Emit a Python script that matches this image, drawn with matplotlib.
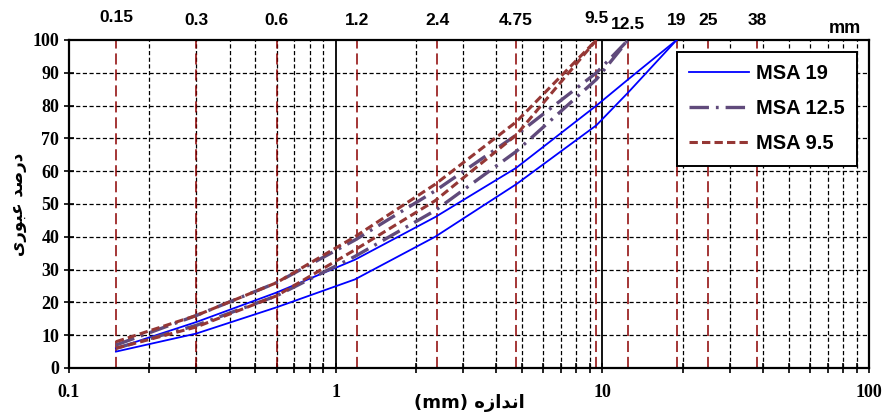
import numpy as np
import matplotlib
matplotlib.use("Agg")
import matplotlib.pyplot as plt
import matplotlib.ticker as mticker
import matplotlib.transforms as mtransforms

plt.rcParams['lines.scale_dashes'] = False

# sieve sizes (mm) and passing percentages
sieves = [0.15, 0.3, 0.6, 1.18, 2.36, 4.75, 9.5, 12.5, 19]
msa19_lo = [5, 10.5, 18.5, 27, 40, 56, 74, 84, 100]
msa19_hi = [6, 14, 23, 33, 46, 61, 80, 88, 100]
msa125_lo = [6, 13, 22, 34, 48, 66, 88, 100]
msa125_hi = [7, 16, 26, 39, 54, 71, 90, 100]
msa95_lo = [6, 12.5, 22, 36, 51, 71, 100]
msa95_hi = [8, 16, 26, 40, 56, 75, 100]

top_sizes = [0.15, 0.3, 0.6, 1.2, 2.4, 4.75, 9.5, 12.5, 19, 25, 38]
top_labels = ["0.15", "0.3", "0.6", "1.2", "2.4", "4.75", "9.5", "12.5", "19", "25", "38"]
xtick_vals = [0.1, 1, 10, 100]
xtick_labels = ["0.1", "1", "10", "100"]
ytick_vals = list(range(0, 101, 10))

# Persian labels (presentation forms, visual order)
xlabel_fa = "(mm) \uFEE9\uFEAF\uFE8D\uFEAA\uFEE7\uFE8D"
ylabel_fa = "\uFBFC\uFEAD\uFEEE\uFE92\uFECB \uFEAA\uFEBB\uFEAD\uFEA9"

fig = plt.figure(figsize=(8.85, 4.17), dpi=100)
ax = fig.add_axes([69/885, 1-368/417, 800/885, 328/417])
ax.set_xscale('log')
ax.set_xlim(0.1, 100)
ax.set_ylim(0, 100)

# grid
for v in range(10, 100, 10):
    ax.axhline(v, color='black', lw=0.9, dashes=(3, 1.8), zorder=1)
minors = [m * d for d in (0.1, 1, 10) for m in range(2, 10)]
for m in minors:
    ax.axvline(m, color='black', lw=0.9, dashes=(3, 1.8), zorder=1)
for m in (1, 10):
    ax.axvline(m, color='black', lw=1.3, zorder=1)

# sieve lines
for s in top_sizes:
    ax.axvline(s, color='#8B0000', lw=1.1, dashes=(8, 3.5), zorder=2)

blue = '#0000FF'
purple = '#604A7B'
red = '#953735'
ax.plot(sieves, msa19_hi, color=blue, lw=1.3, label='MSA 19', zorder=3)
ax.plot(sieves, msa19_lo, color=blue, lw=1.3, zorder=3)
ax.plot(sieves[:8], msa125_hi, color=purple, lw=2.4, dashes=(14, 5, 2, 5), label='MSA 12.5', zorder=3)
ax.plot(sieves[:8], msa125_lo, color=purple, lw=2.4, dashes=(14, 5, 2, 5), zorder=3)
ax.plot(sieves[:7], msa95_hi, color=red, lw=2.2, dashes=(6, 3), label='MSA 9.5', zorder=4)
ax.plot(sieves[:7], msa95_lo, color=red, lw=2.2, dashes=(6, 3), zorder=4)

for sp in ax.spines.values():
    sp.set_linewidth(1.6)

ax.xaxis.set_major_locator(mticker.FixedLocator(xtick_vals))
ax.xaxis.set_major_formatter(mticker.FixedFormatter(xtick_labels))
ax.xaxis.set_minor_locator(mticker.FixedLocator(minors))
ax.xaxis.set_minor_formatter(mticker.NullFormatter())
ax.set_yticks(ytick_vals)
ax.tick_params(axis='both', which='both', direction='inout', length=7, width=1.2)
ax.tick_params(axis='x', which='major', pad=8)
for lab in ax.get_xticklabels() + ax.get_yticklabels():
    lab.set_fontfamily('Liberation Serif')
    lab.set_fontweight('bold')
    lab.set_fontsize(13)

ax.set_xlabel(xlabel_fa, fontsize=13, fontweight='bold', family='DejaVu Sans', labelpad=-5)
ax.set_ylabel(ylabel_fa, fontsize=12, fontweight='bold', family='DejaVu Sans', labelpad=4)

# top sieve labels
trans = mtransforms.blended_transform_factory(ax.transData, ax.transAxes)
nudge = {"0.15": 0.008, "9.5": 0.005, "12.5": -0.012}
for s, t in zip(top_sizes, top_labels):
    ax.text(s, 1.06 + nudge.get(t, 0), t, transform=trans, ha='center', va='center',
            fontsize=12.5, fontweight='bold', family='Liberation Sans')
ax.text(0.99, 1.035, "mm", transform=ax.transAxes, ha='right', va='center',
        fontsize=13, fontweight='bold', family='Liberation Sans')

leg = ax.legend(loc='upper right', bbox_to_anchor=(0.985, 0.963), borderaxespad=0,
                fancybox=False, edgecolor='black', framealpha=1, handlelength=3.0,
                handletextpad=0.35, labelspacing=0.8, borderpad=0.6,
                prop={'family': 'Liberation Sans', 'weight': 'bold', 'size': 14.5})
leg.get_frame().set_linewidth(1.4)

fig.savefig('out.png', dpi=100)
